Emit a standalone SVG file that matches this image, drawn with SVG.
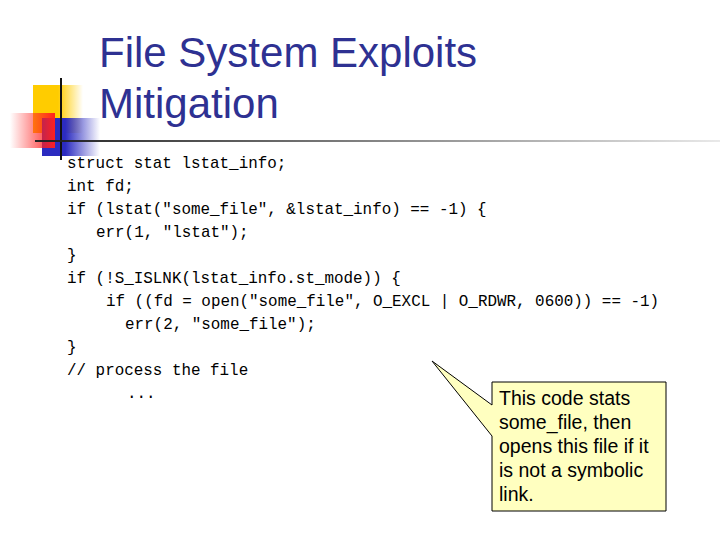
<svg xmlns="http://www.w3.org/2000/svg" width="720" height="540" viewBox="0 0 720 540">
<defs>
<style>
.code{font-family:"Liberation Mono",monospace;font-size:15.9px;fill:#000;white-space:pre}
.title{font-family:"Liberation Sans",Arial,sans-serif;font-size:42px;fill:#2e3192}
.note{font-family:"Liberation Sans",Arial,sans-serif;font-size:19.5px;fill:#000}
</style>
<linearGradient id="yel" x1="0" x2="1"><stop offset="0.5" stop-color="#ffcc00"/><stop offset="1" stop-color="#ffcc00" stop-opacity="0"/></linearGradient>
<linearGradient id="blu" x1="0" x2="1"><stop offset="0.4" stop-color="#2b2bc0"/><stop offset="1" stop-color="#2b2bc0" stop-opacity="0"/></linearGradient>
<linearGradient id="red" x1="1" x2="0"><stop offset="0" stop-color="#ff2020"/><stop offset="1" stop-color="#ff2020" stop-opacity="0"/></linearGradient>
<linearGradient id="hl" x1="0" x2="1"><stop offset="0" stop-color="#222"/><stop offset="1" stop-color="#222" stop-opacity="0.1"/></linearGradient>
</defs>
<g id="decoration">
<rect x="33" y="85" width="50" height="48" fill="url(#yel)"/>
<rect x="42" y="118" width="58" height="38" fill="url(#blu)"/>
<rect x="10" y="113" width="45" height="35" fill="url(#red)"/>
<line x1="61" y1="78" x2="61" y2="160" stroke="#111" stroke-width="2"/>
<rect x="35" y="140" width="685" height="2" fill="url(#hl)"/>
</g>
<g id="title">
<text class="title" x="99" y="67">File System Exploits</text>
<text class="title" x="99" y="118">Mitigation</text>
</g>
<g id="code">
<text class="code" x="67" y="168">struct stat lstat_info;</text>
<text class="code" x="67" y="191">int fd;</text>
<text class="code" x="67" y="214">if (lstat("some_file", &amp;lstat_info) == -1) {</text>
<text class="code" x="96" y="237">err(1, "lstat");</text>
<text class="code" x="67" y="260">}</text>
<text class="code" x="67" y="283">if (!S_ISLNK(lstat_info.st_mode)) {</text>
<text class="code" x="106" y="306">if ((fd = open("some_file", O_EXCL | O_RDWR, 0600)) == -1)</text>
<text class="code" x="125" y="329">err(2, "some_file");</text>
<text class="code" x="67" y="352">}</text>
<text class="code" x="67" y="375">// process the file</text>
<text class="code" x="127" y="398">...</text>
</g>
<g id="callout">
<path d="M492,382 H666 V511 H492 V436 L432,361 L492,405 Z" fill="#ffffc0" stroke="#000" stroke-width="1"/>
<text class="note" x="499" y="405">This code stats</text>
<text class="note" x="499" y="429">some_file, then</text>
<text class="note" x="499" y="453">opens this file if it</text>
<text class="note" x="499" y="477">is not a symbolic</text>
<text class="note" x="499" y="501">link.</text>
</g>
</svg>
